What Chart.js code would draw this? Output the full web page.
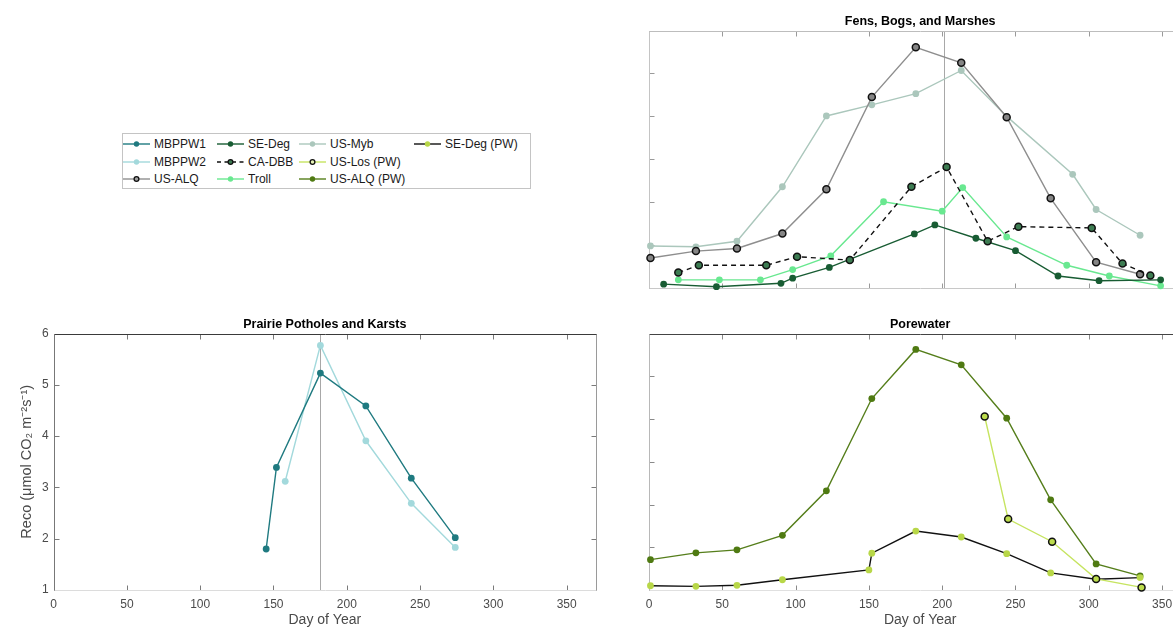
<!DOCTYPE html>
<html lang="en">
<head>
<meta charset="UTF-8">
<title>Reco by wetland type</title>
<script src="https://cdn.jsdelivr.net/npm/chart.js@4.4.1/dist/chart.umd.min.js"></script>
<style>
  html, body { margin: 0; padding: 0; background: #fff; overflow: hidden; width: 1173px; height: 629px; }
  body { position: relative; font-family: "Liberation Sans", Arial, sans-serif; }
  canvas { position: absolute; }
  #legend { position: absolute; left: 122px; top: 133px; width: 409px; height: 56px;
            border: 1px solid #c4c4c4; background: #fff; box-sizing: border-box; }
  .item { position: absolute; height: 14px; display: flex; align-items: center;
          font-size: 12px; color: #1a1a1a; white-space: nowrap; }
  .item span { margin-left: 4px; }
</style>
</head>
<body>
<canvas id="fens" width="600" height="300" style="left:620px; top:0px"></canvas>
<canvas id="prairie" width="620" height="329" style="left:0px; top:300px"></canvas>
<canvas id="pore" width="600" height="329" style="left:620px; top:300px"></canvas>
<div id="legend"></div>

<script>
// ---- data (day of year, Reco) ----
const dayTicks = [0, 50, 100, 150, 200, 250, 300, 350];
const recoTicks = [1, 2, 3, 4, 5, 6];
const paneTicks = [0, 1, 2, 3, 4, 5, 6];

// Prairie Potholes and Karsts
const mbppw1Day  = [145, 152, 182, 213, 244, 274];
const mbppw1Reco = [1.80, 3.39, 5.23, 4.59, 3.18, 2.02];
const mbppw2Day  = [158, 182, 213, 244, 274];
const mbppw2Reco = [3.12, 5.77, 3.91, 2.69, 1.83];

// Fens, Bogs, and Marshes
const usMybDay   = [1, 32, 60, 91, 121, 152, 182, 213, 244, 289, 305, 335];
const usMybReco  = [0.98, 0.96, 1.09, 2.36, 4.01, 4.27, 4.53, 5.07, 4.00, 2.65, 1.83, 1.23];
const usAlqDay   = [1, 32, 60, 91, 121, 152, 182, 213, 244, 274, 305, 335];
const usAlqReco  = [0.70, 0.86, 0.92, 1.27, 2.30, 4.45, 5.61, 5.25, 3.98, 2.09, 0.60, 0.32];
const caDbbDay   = [20, 34, 80, 101, 137, 179, 203, 231, 252, 302, 323, 342];
const caDbbReco  = [0.36, 0.53, 0.53, 0.73, 0.65, 2.36, 2.82, 1.09, 1.43, 1.40, 0.57, 0.29];
const trollDay   = [20, 48, 76, 98, 124, 160, 200, 214, 244, 285, 314, 349];
const trollReco  = [0.19, 0.19, 0.19, 0.43, 0.75, 2.01, 1.79, 2.34, 1.19, 0.53, 0.28, 0.05];
const seDegDay   = [10, 46, 90, 98, 123, 181, 195, 223, 250, 279, 307, 349];
const seDegReco  = [0.09, 0.03, 0.11, 0.23, 0.48, 1.26, 1.47, 1.16, 0.87, 0.28, 0.17, 0.19];

// Porewater
const usAlqPwDay  = [1, 32, 60, 91, 121, 152, 182, 213, 244, 274, 305, 335];
const usAlqPwReco = [0.71, 0.87, 0.94, 1.28, 2.32, 4.48, 5.63, 5.27, 4.02, 2.11, 0.61, 0.33];
const seDegPwDay  = [1, 32, 60, 91, 150, 152, 182, 213, 244, 274, 305, 335];
const seDegPwReco = [0.10, 0.085, 0.11, 0.24, 0.47, 0.86, 1.38, 1.24, 0.85, 0.40, 0.25, 0.29];
const usLosPwDay  = [229, 245, 275, 305, 336];
const usLosPwReco = [4.06, 1.66, 1.13, 0.26, 0.06];

// ---- look of each site ----
const STYLE = {
  'MBPPW1':      { line: '#1f7a80', fill: '#1f7a80' },
  'MBPPW2':      { line: '#a3d9dc', fill: '#a3d9dc' },
  'US-ALQ':      { line: '#8e8e8e', fill: '#858585', edge: '#111' },
  'SE-Deg':      { line: '#185c33', fill: '#185c33' },
  'CA-DBB':      { line: '#111', fill: '#3d7c52', edge: '#111', dash: [5, 4] },
  'Troll':       { line: '#69e890', fill: '#69e890' },
  'US-Myb':      { line: '#abc7bc', fill: '#abc7bc' },
  'US-Los (PW)': { line: '#c6e460', fill: '#bcdc4c', edge: '#111' },
  'US-ALQ (PW)': { line: '#557e1b', fill: '#4f7a12' },
  'SE-Deg (PW)': { line: '#111', fill: '#b8d748' }
};

const FONT = '"Liberation Sans", Arial, sans-serif';
Chart.defaults.font.family = FONT;

function series(label, days, reco) {
  const st = STYLE[label];
  return {
    label,
    data: days.map((d, i) => ({ x: d, y: reco[i] })),
    borderColor: st.line,
    borderWidth: 1.4,
    borderDash: st.dash || [],
    pointRadius: st.edge ? 3.5 : 3.4,
    pointBackgroundColor: st.fill,
    pointBorderColor: st.edge || st.fill,
    pointBorderWidth: st.edge ? 1.5 : 0,
    tension: 0,
    fill: false,
    clip: false
  };
}

// MATLAB-like box: inward ticks on all four sides, optional reference line
const frame = {
  id: 'frame',
  beforeDatasetsDraw(chart, args, opt) {
    const { ctx, chartArea: a, scales: { x, y } } = chart;
    const L = Math.round(a.left) + 0.5, R = Math.round(a.right) + 0.5;
    const T = Math.round(a.top) + 0.5, B = Math.round(a.bottom) + 0.5;
    const seg = (x1, y1, x2, y2) => { ctx.beginPath(); ctx.moveTo(x1, y1); ctx.lineTo(x2, y2); ctx.stroke(); };
    ctx.save();
    ctx.lineWidth = 1;
    if (opt.refDay != null) {
      const px = Math.round(x.getPixelForValue(opt.refDay)) + 0.5;
      ctx.strokeStyle = '#a8a8a8';
      seg(px, T, px, B);
    }
    ctx.strokeStyle = opt.tick;
    x.ticks.forEach(t => {
      const px = Math.round(x.getPixelForValue(t.value)) + 0.5;
      seg(px, B, px, B - 5);
      seg(px, T, px, T + 5);
    });
    y.ticks.forEach(t => {
      const py = Math.round(y.getPixelForValue(t.value)) + 0.5;
      seg(L, py, L + 5, py);
      seg(R, py, R - 5, py);
    });
    ctx.strokeStyle = opt.bottom; seg(L, B, R, B);
    ctx.strokeStyle = opt.right;  seg(R, T, R, B);
    ctx.strokeStyle = opt.top;    seg(L, T, R, T);
    ctx.strokeStyle = opt.left;   seg(L, T, L, B);
    ctx.restore();
  }
};

function panel(id, title, sets, o) {
  return new Chart(document.getElementById(id), {
    type: 'line',
    data: { datasets: sets },
    options: {
      responsive: false,
      devicePixelRatio: 1,
      animation: false,
      events: [],
      layout: { padding: { top: o.padTop, right: o.padRight, left: 0, bottom: 0 } },
      plugins: {
        legend: { display: false },
        tooltip: { enabled: false },
        title: {
          display: true, text: title, fullSize: false, color: '#000',
          font: { size: 12.5, weight: 'bold' }, padding: { top: 0, bottom: 2 }
        },
        frame: o.frame
      },
      scales: {
        x: {
          type: 'linear', min: 0, max: 370,
          grid: { display: false, drawTicks: false },
          border: { display: false },
          afterBuildTicks: s => { s.ticks = dayTicks.map(v => ({ value: v })); },
          afterFit: s => { s.height = o.xH; },
          ticks: { display: o.xLabels, padding: 7, color: '#4a4a4a', font: { size: 12 }, maxRotation: 0, autoSkip: false },
          title: { display: o.xLabels, text: 'Day of Year', color: '#4a4a4a', font: { size: 14 }, padding: { top: 0, bottom: 0 } }
        },
        y: {
          type: 'linear', min: o.yMin, max: 6,
          grid: { display: false, drawTicks: false },
          border: { display: false },
          afterBuildTicks: s => { s.ticks = o.yTicks.map(v => ({ value: v })); },
          afterFit: s => { s.width = o.yW; },
          ticks: { display: o.yLabels, padding: 5, color: '#4a4a4a', font: { size: 12 } },
          title: { display: o.yLabels, text: 'Reco (\u03bcmol CO\u2082 m\u207b\u00b2s\u207b\u00b9)', color: '#4a4a4a',
                   font: { size: 14.5 }, padding: { top: 18.3, bottom: 0 } }
        }
      }
    },
    plugins: [frame]
  });
}

panel('fens', 'Fens, Bogs, and Marshes', [
  series('CA-DBB', caDbbDay, caDbbReco),
  series('US-ALQ', usAlqDay, usAlqReco),
  series('SE-Deg', seDegDay, seDegReco),
  series('Troll', trollDay, trollReco),
  series('US-Myb', usMybDay, usMybReco)
], { padTop: 13.6, padRight: 28.6, xH: 12, yW: 29, yMin: 0, yTicks: paneTicks,
     xLabels: false, yLabels: false,
     frame: { refDay: 201, tick: '#9a9a9a', top: '#bdbdbd', left: '#c4c4c4', bottom: '#c8c8c8', right: '#c4c4c4' } });

panel('prairie', 'Prairie Potholes and Karsts', [
  series('MBPPW1', mbppw1Day, mbppw1Reco),
  series('MBPPW2', mbppw2Day, mbppw2Reco)
], { padTop: 16.6, padRight: 24, xH: 39, yW: 53.6, yMin: 1, yTicks: recoTicks,
     xLabels: true, yLabels: true,
     frame: { refDay: 182, tick: '#7a7a7a', top: '#3a3a3a', left: '#777', bottom: '#dcdcdc', right: '#9a9a9a' } });

panel('pore', 'Porewater', [
  series('US-Los (PW)', usLosPwDay, usLosPwReco),
  series('SE-Deg (PW)', seDegPwDay, seDegPwReco),
  series('US-ALQ (PW)', usAlqPwDay, usAlqPwReco)
], { padTop: 16.6, padRight: 28.6, xH: 39, yW: 29, yMin: 0, yTicks: paneTicks,
     xLabels: true, yLabels: false,
     frame: { tick: '#8a8a8a', top: '#444', left: '#b8b8b8', bottom: '#e0e0e0', right: '#b8b8b8' } });

// ---- legend (column-major, 4 columns) ----
const legendCols = [
  ['MBPPW1', 'MBPPW2', 'US-ALQ'],
  ['SE-Deg', 'CA-DBB', 'Troll'],
  ['US-Myb', 'US-Los (PW)', 'US-ALQ (PW)'],
  ['SE-Deg (PW)']
];
const colX = [123, 217, 299, 414];
const rowY = [144, 161.7, 179.3];
const box = document.getElementById('legend');
legendCols.forEach((col, c) => {
  col.forEach((label, r) => {
    const st = STYLE[label];
    const item = document.createElement('div');
    item.className = 'item';
    item.style.left = (colX[c] - 123) + 'px';
    item.style.top = (rowY[r] - 133 - 1 - 7) + 'px';
    const dash = st.dash ? ' stroke-dasharray="4 3.5"' : '';
    const ring = st.edge ? ` stroke="${st.edge}" stroke-width="1.3"` : '';
    const fill = label === 'US-ALQ' ? '#a0a0a0' : (label === 'US-Los (PW)' ? '#e6f2b8' : st.fill);
    item.innerHTML =
      `<svg width="27" height="10" viewBox="0 0 27 10">` +
      `<line x1="0" y1="5" x2="27" y2="5" stroke="${st.line}" stroke-width="1.4"${dash}/>` +
      `<circle cx="13.5" cy="5" r="${st.edge ? 2.4 : 2.7}" fill="${fill}"${ring}/></svg>` +
      `<span>${label}</span>`;
    box.appendChild(item);
  });
});
</script>
</body>
</html>
